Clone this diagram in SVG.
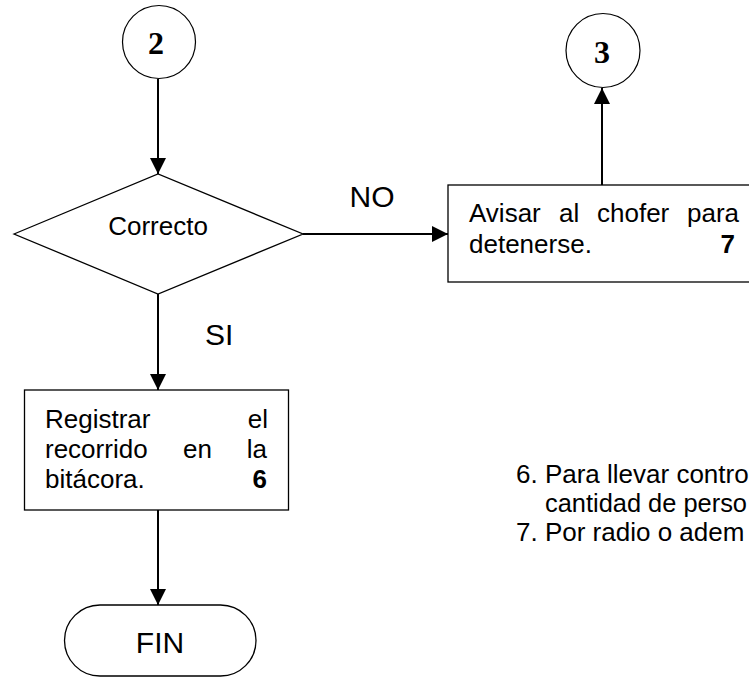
<svg xmlns="http://www.w3.org/2000/svg" width="749" height="677" viewBox="0 0 749 677">
<defs>
<marker id="arr" markerUnits="userSpaceOnUse" markerWidth="16" markerHeight="16" viewBox="0 0 15 15" refX="15" refY="7.5" orient="auto">
<path d="M0,0 L15,7.5 L0,15 Z" fill="#000"/>
</marker>
<style>
.shape{fill:#fff;stroke:#000;stroke-width:1.3}
.circ{fill:#fff;stroke:#000;stroke-width:1.2}
.conn{fill:none;stroke:#000;stroke-width:2;marker-end:url(#arr)}
.t{font-family:"Liberation Sans",Arial,sans-serif;font-size:26px;fill:#000}
.lbl{font-family:"Liberation Sans",Arial,sans-serif;font-size:30px;fill:#000}
.num{font-family:"Liberation Serif","Times New Roman",serif;font-size:32px;font-weight:bold;fill:#000}
.b{font-weight:bold}
</style>
</defs>
<rect width="749" height="677" fill="#fff"/>
<g id="connectors">
<line class="conn" x1="158" y1="79" x2="158" y2="174"/>
<line class="conn" x1="303" y1="234" x2="448" y2="234"/>
<line class="conn" x1="158" y1="294" x2="158" y2="390"/>
<line class="conn" x1="158" y1="510" x2="158" y2="605"/>
<line class="conn" x1="602" y1="185" x2="602" y2="88"/>
<text class="lbl" x="372" y="207" text-anchor="middle">NO</text>
<text class="lbl" x="205" y="345">SI</text>
</g>
<g id="conector2">
<circle class="circ" cx="159" cy="42" r="36.5"/>
<text class="num" x="156" y="54" text-anchor="middle">2</text>
</g>
<g id="decision">
<polygon class="shape" points="14,234 158,174 303,234 158,294"/>
<text class="t" x="158" y="235" text-anchor="middle">Correcto</text>
</g>
<g id="avisar">
<rect class="shape" x="448" y="185" width="320" height="97"/>
<text class="t" y="222"><tspan x="469">Avisar</tspan><tspan x="559">al</tspan><tspan x="597">chofer</tspan><tspan x="687">para</tspan></text>
<text class="t" x="469" y="253">detenerse.</text>
<text class="t b" x="735" y="253" text-anchor="end">7</text>
</g>
<g id="conector3">
<circle class="circ" cx="603" cy="50.5" r="37"/>
<text class="num" x="602" y="63" text-anchor="middle">3</text>
</g>
<g id="registrar">
<rect class="shape" x="24.5" y="390" width="264" height="120"/>
<text class="t" x="45" y="428">Registrar</text>
<text class="t" x="268" y="428" text-anchor="end">el</text>
<text class="t" y="458"><tspan x="45">recorrido</tspan><tspan x="183">en</tspan></text>
<text class="t" x="267" y="458" text-anchor="end">la</text>
<text class="t" x="45" y="488">bitácora.</text>
<text class="t b" x="267" y="488" text-anchor="end">6</text>
</g>
<g id="fin">
<rect class="shape" x="64.5" y="605" width="191.5" height="71" rx="35.5" ry="35.5"/>
<text class="lbl" x="160" y="653" text-anchor="middle">FIN</text>
</g>
<g id="notas">
<text class="t" x="516" y="483">6. Para llevar contro</text>
<text class="t" x="545" y="512" textLength="202" lengthAdjust="spacingAndGlyphs">cantidad de perso</text>
<text class="t" x="516" y="541">7. Por radio o adem</text>
</g>
</svg>
